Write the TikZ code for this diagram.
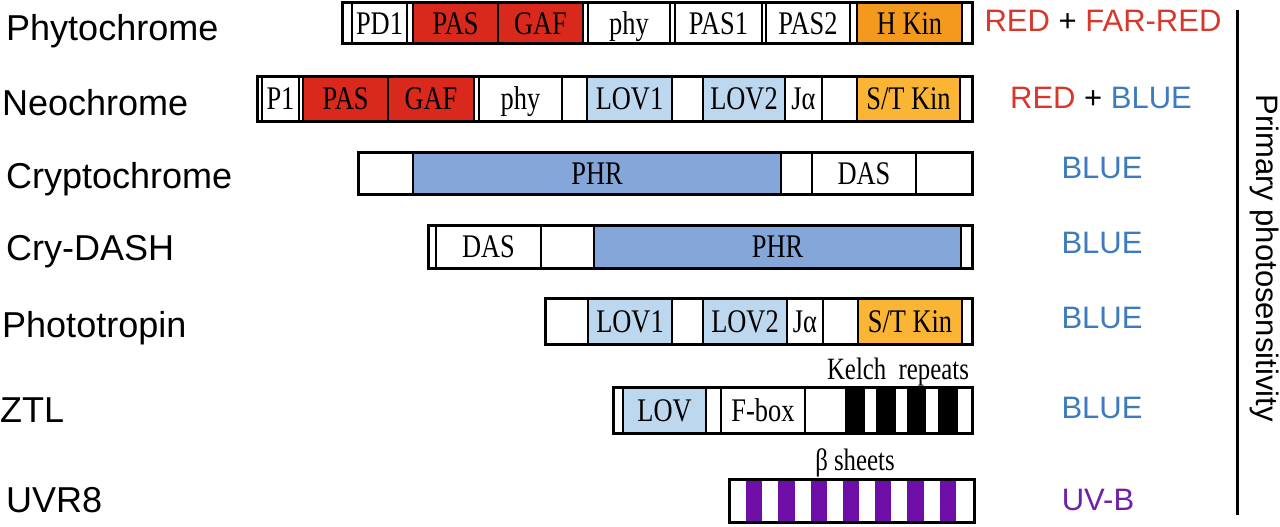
\documentclass[tikz,border=0pt]{standalone}
\usepackage{fontspec}
\setmainfont{Liberation Serif}
\newfontfamily\domfont[FakeStretch=0.8]{Liberation Serif}
\newfontfamily\labfont{Liberation Sans}
\definecolor{domred}{HTML}{D9281C}
\definecolor{hkin}{HTML}{F39A1E}
\definecolor{stkin}{HTML}{FBB535}
\definecolor{lovblue}{HTML}{BDD7EE}
\definecolor{phrblue}{HTML}{84A6D8}
\definecolor{uvpurple}{HTML}{6E0EA6}
\definecolor{txtred}{HTML}{D8372B}
\definecolor{txtblue}{HTML}{3D7BBE}
\definecolor{txtpurple}{HTML}{7020A8}
\newcommand\seg[7]{%
  \node[segbox, fill=#6, minimum width={(#3-#2)*1pt}, minimum height={(#5-#4)*1pt}]
    (#1) at ({(#2+#3)/2},{(#4+#5)/2}) {#7};}
\newcommand\barframe[5]{%
  \node[barbox, minimum width={(#3-#2)*1pt}, minimum height={(#5-#4)*1pt}]
    (#1) at ({(#2+#3)/2},{(#4+#5)/2}) {};}
\begin{document}
\begin{tikzpicture}[x=1pt,y=-1pt,
  segbox/.style={draw, line width=1.7pt, inner sep=0pt, outer sep=0pt,
    text height=22pt, text depth=0pt,
    font=\domfont\fontsize{33}{33}\selectfont},
  barbox/.style={draw, line width=3pt, inner sep=0pt, outer sep=0pt},
  namelab/.style={anchor=base west, inner sep=0pt, font=\labfont\fontsize{36}{36}\selectfont},
  lightlab/.style={anchor=base, inner sep=0pt, font=\labfont\fontsize{31}{31}\selectfont},
  annot/.style={anchor=base, inner sep=0pt, font=\domfont\fontsize{31}{31}\selectfont}]
\useasboundingbox[fill=white] (0,0) rectangle (1280,527);

% ---------- left labels ----------
\node[namelab] (nPhy) at (6,41) {Phytochrome};
\node[namelab] (nNeo) at (2,115) {Neochrome};
\node[namelab] (nCry) at (6,188) {Cryptochrome};
\node[namelab] (nDash) at (6,260) {Cry-DASH};
\node[namelab] (nPhot) at (2,337) {Phototropin};
\node[namelab] (nZtl) at (0,422) {ZTL};
\node[namelab] (nUvr) at (6,512) {UVR8};

% ---------- Phytochrome ----------
\seg{a1}{342}{352}{3}{44}{white}{}
\seg{a2}{352}{407}{3}{44}{white}{PD1}
\seg{a3}{407}{413}{3}{44}{white}{}
\seg{a4}{413}{498}{3}{44}{domred}{PAS}
\seg{a5}{498}{583}{3}{44}{domred}{GAF}
\seg{a6}{583}{588}{3}{44}{white}{}
\seg{a7}{588}{670}{3}{44}{white}{phy}
\seg{a8}{670}{675}{3}{44}{white}{}
\seg{a9}{675}{762}{3}{44}{white}{PAS1}
\seg{a10}{762}{766}{3}{44}{white}{}
\seg{a11}{766}{850}{3}{44}{white}{PAS2}
\seg{a12}{850}{857}{3}{44}{white}{}
\seg{a13}{857}{962}{3}{44}{hkin}{H Kin}
\seg{a14}{962}{972}{3}{44}{white}{}
\barframe{aBar}{342}{972}{3}{44}

% ---------- Neochrome ----------
\seg{b1}{257}{262}{77}{121}{white}{}
\seg{b2}{262}{299}{77}{121}{white}{P1}
\seg{b3}{299}{303}{77}{121}{white}{}
\seg{b4}{303}{388}{77}{121}{domred}{PAS}
\seg{b5}{388}{474}{77}{121}{domred}{GAF}
\seg{b6}{474}{479}{77}{121}{white}{}
\seg{b7}{479}{562}{77}{121}{white}{phy}
\seg{b8}{562}{587}{77}{121}{white}{}
\seg{b9}{587}{672}{77}{121}{lovblue}{LOV1}
\seg{b10}{672}{703}{77}{121}{white}{}
\seg{b11}{703}{785}{77}{121}{lovblue}{LOV2}
\seg{b12}{785}{822}{77}{121}{white}{Jα}
\seg{b13}{822}{857}{77}{121}{white}{}
\seg{b14}{857}{960}{77}{121}{stkin}{S/T Kin}
\seg{b15}{960}{972}{77}{121}{white}{}
\barframe{bBar}{257}{972}{77}{121}

% ---------- Cryptochrome ----------
\seg{c1}{358}{413}{152}{194}{white}{}
\seg{c2}{413}{781}{152}{194}{phrblue}{PHR}
\seg{c3}{781}{812}{152}{194}{white}{}
\seg{c4}{812}{916}{152}{194}{white}{DAS}
\seg{c5}{916}{972}{152}{194}{white}{}
\barframe{cBar}{358}{972}{152}{194}

% ---------- Cry-DASH ----------
\seg{d1}{428}{436}{225}{268}{white}{}
\seg{d2}{436}{541}{225}{268}{white}{DAS}
\seg{d3}{541}{594}{225}{268}{white}{}
\seg{d4}{594}{961}{225}{268}{phrblue}{PHR}
\seg{d5}{961}{972}{225}{268}{white}{}
\barframe{dBar}{428}{972}{225}{268}

% ---------- Phototropin ----------
\seg{e1}{545}{588}{298}{344}{white}{}
\seg{e2}{588}{672}{298}{344}{lovblue}{LOV1}
\seg{e3}{672}{703}{298}{344}{white}{}
\seg{e4}{703}{787}{298}{344}{lovblue}{LOV2}
\seg{e5}{787}{823}{298}{344}{white}{Jα}
\seg{e6}{823}{858}{298}{344}{white}{}
\seg{e7}{858}{962}{298}{344}{stkin}{S/T Kin}
\seg{e8}{962}{972}{298}{344}{white}{}
\barframe{eBar}{545}{972}{298}{344}

% ---------- ZTL ----------
\node[annot] (kelch) at (898,379) {Kelch\ \ repeats};
\seg{f1}{613}{623}{387}{433}{white}{}
\seg{f2}{623}{706}{387}{433}{lovblue}{LOV}
\seg{f3}{706}{721}{387}{433}{white}{}
\seg{f4}{721}{805}{387}{433}{white}{F-box}
\seg{f5}{805}{846}{387}{433}{white}{}
\seg{f6}{846}{864}{387}{433}{black}{}
\seg{f7}{864}{877}{387}{433}{white}{}
\seg{f8}{877}{895}{387}{433}{black}{}
\seg{f9}{895}{908}{387}{433}{white}{}
\seg{f10}{908}{925}{387}{433}{black}{}
\seg{f11}{925}{939}{387}{433}{white}{}
\seg{f12}{939}{957}{387}{433}{black}{}
\seg{f13}{957}{972}{387}{433}{white}{}
\barframe{fBar}{613}{972}{387}{433}

% ---------- UVR8 ----------
\node[annot] (beta) at (855,470) {β sheets};
\foreach \i in {0,...,14}{
  \pgfmathsetmacro\xa{730+\i*16.13}
  \pgfmathsetmacro\xb{730+(\i+1)*16.13}
  \pgfmathtruncatemacro\odd{mod(\i,2)}
  \ifnum\odd=1
    \fill[uvpurple] (\xa,479) rectangle (\xb,522);
  \fi
}
\barframe{gBar}{729}{974}{479}{522}

% ---------- right labels ----------
\node[lightlab] (l1) at (1103,32) {\textcolor{txtred}{RED} + \textcolor{txtred}{FAR-RED}};
\node[lightlab] (l2) at (1101,108) {\textcolor{txtred}{RED} + \textcolor{txtblue}{BLUE}};
\node[lightlab, text=txtblue] (l3) at (1102,178) {BLUE};
\node[lightlab, text=txtblue] (l4) at (1102,253) {BLUE};
\node[lightlab, text=txtblue] (l5) at (1102,328) {BLUE};
\node[lightlab, text=txtblue] (l6) at (1102,418) {BLUE};
\node[lightlab, text=txtpurple] (l7) at (1098,510) {UV-B};

% ---------- bracket ----------
\coordinate (vt) at (1237,10);
\coordinate (vb) at (1237,515);
\draw[line width=3pt] (vt) -- (vb);
\node[lightlab, anchor=center, rotate=-90] (prim) at (1265,258) {Primary photosensitivity};
\end{tikzpicture}
\end{document}
